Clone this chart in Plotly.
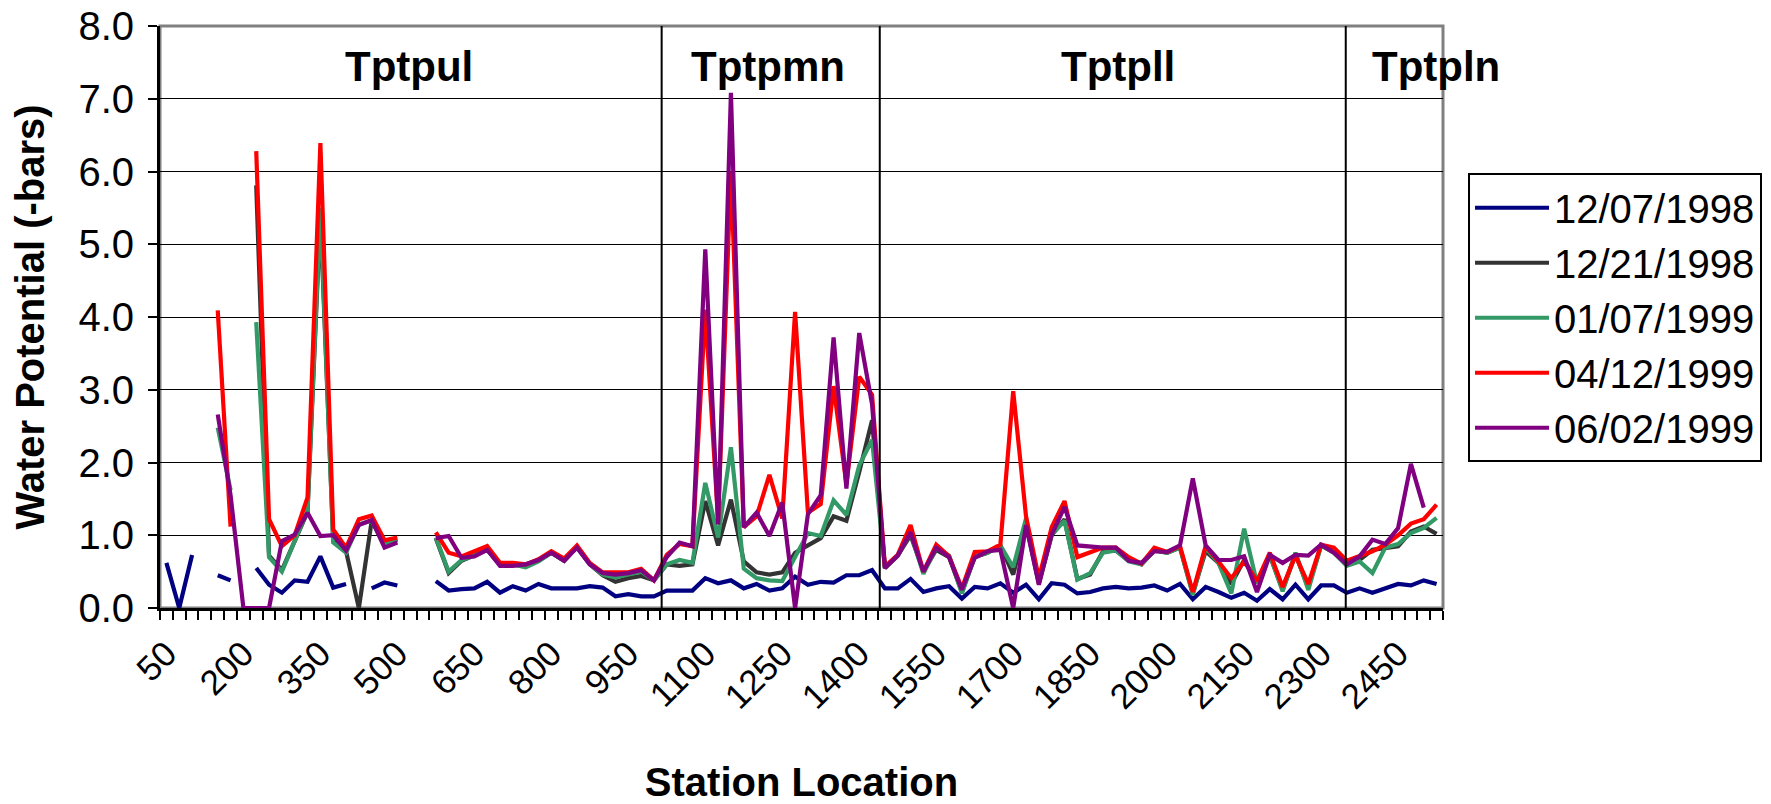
import plotly.graph_objects as go

# Station locations (categories), every 25 from 50 to 2525
stations = [50 + 25 * k for k in range(100)]
tick_labels = ["50", "200", "350", "500", "650", "800", "950", "1100", "1250", "1400",
               "1550", "1700", "1850", "2000", "2150", "2300", "2450"]
tick_stations = [int(t) for t in tick_labels]

N = None
s_120798 = [0.62, 0.0, 0.73, N, 0.45, 0.38, N, 0.55, 0.32, 0.21,
            0.38, 0.36, 0.71, 0.28, 0.33, N, 0.27, 0.35, 0.31, N,
            N, 0.37, 0.24, 0.26, 0.27, 0.36, 0.21, 0.30, 0.24, 0.33,
            0.27, 0.27, 0.27, 0.30, 0.28, 0.16, 0.19, 0.16, 0.16, 0.24,
            0.24, 0.24, 0.41, 0.34, 0.38, 0.27, 0.33, 0.24, 0.27, 0.43,
            0.32, 0.36, 0.35, 0.45, 0.45, 0.52, 0.27, 0.27, 0.40, 0.22,
            0.27, 0.30, 0.13, 0.29, 0.27, 0.34, 0.21, 0.32, 0.12, 0.34,
            0.32, 0.20, 0.22, 0.27, 0.29, 0.27, 0.28, 0.31, 0.24, 0.33,
            0.12, 0.29, 0.22, 0.14, 0.21, 0.10, 0.26, 0.12, 0.32, 0.12,
            0.31, 0.31, 0.21, 0.27, 0.21, 0.27, 0.33, 0.31, 0.38, 0.33]

s_122198 = [N, N, N, N, N, N, N, 5.81, 0.72, 0.52,
            0.92, 1.32, 5.40, 0.92, 0.78, 0.0, 1.20, 0.88, 0.94, N,
            N, 0.96, 0.48, 0.65, 0.72, 0.80, 0.60, 0.60, 0.58, 0.65,
            0.76, 0.65, 0.84, 0.60, 0.45, 0.36, 0.41, 0.44, 0.38, 0.60,
            0.58, 0.60, 1.47, 0.86, 1.49, 0.64, 0.49, 0.46, 0.49, 0.76,
            0.86, 0.96, 1.26, 1.20, 1.87, 2.58, 0.55, 0.72, 1.00, 0.50,
            0.80, 0.70, 0.22, 0.70, 0.76, 0.86, 0.46, 1.15, 0.34, 1.00,
            1.22, 0.40, 0.46, 0.78, 0.79, 0.67, 0.60, 0.79, 0.76, 0.83,
            0.20, 0.78, 0.62, 0.33, 0.66, 0.36, 0.72, 0.25, 0.74, 0.28,
            0.86, 0.76, 0.60, 0.66, 0.80, 0.83, 0.85, 1.05, 1.12, 1.02]

s_010799 = [N, N, N, N, 2.48, 1.62, N, 3.93, 0.70, 0.50,
            0.92, 1.34, 5.50, 0.90, 0.76, 1.15, 1.20, 0.87, 0.94, N,
            N, 0.97, 0.50, 0.66, 0.72, 0.80, 0.60, 0.60, 0.56, 0.64,
            0.76, 0.65, 0.84, 0.60, 0.46, 0.42, 0.46, 0.50, 0.38, 0.60,
            0.66, 0.62, 1.72, 0.97, 2.21, 0.54, 0.41, 0.38, 0.37, 0.71,
            1.03, 0.99, 1.48, 1.28, 1.96, 2.31, 0.55, 0.72, 1.04, 0.47,
            0.83, 0.72, 0.20, 0.71, 0.76, 0.86, 0.56, 1.23, 0.34, 1.01,
            1.20, 0.39, 0.48, 0.76, 0.79, 0.64, 0.60, 0.80, 0.76, 0.83,
            0.18, 0.83, 0.62, 0.20, 1.09, 0.34, 0.73, 0.23, 0.76, 0.25,
            0.86, 0.76, 0.58, 0.64, 0.48, 0.83, 0.88, 1.03, 1.10, 1.24]

s_041299 = [N, N, N, N, 4.09, 1.12, N, 6.28, 1.22, 0.85,
            1.00, 1.52, 6.39, 1.08, 0.83, 1.22, 1.27, 0.93, 0.97, N,
            N, 1.04, 0.76, 0.71, 0.78, 0.85, 0.62, 0.62, 0.60, 0.67,
            0.78, 0.68, 0.86, 0.62, 0.49, 0.49, 0.49, 0.54, 0.38, 0.73,
            0.88, 0.85, 4.10, 1.20, 6.00, 1.11, 1.26, 1.83, 1.23, 4.07,
            1.31, 1.43, 3.05, 1.70, 3.18, 2.93, 0.57, 0.73, 1.14, 0.50,
            0.87, 0.71, 0.27, 0.77, 0.78, 0.87, 2.98, 1.26, 0.41, 1.11,
            1.47, 0.70, 0.76, 0.83, 0.83, 0.70, 0.61, 0.83, 0.77, 0.85,
            0.22, 0.85, 0.64, 0.41, 0.64, 0.37, 0.76, 0.29, 0.72, 0.33,
            0.87, 0.83, 0.65, 0.71, 0.78, 0.87, 1.00, 1.16, 1.22, 1.42]

s_060299 = [N, N, N, N, 2.66, 1.55, 0.0, 0.0, 0.0, 0.92,
            1.01, 1.31, 0.99, 1.00, 0.79, 1.14, 1.21, 0.83, 0.90, N,
            N, 0.96, 0.99, 0.69, 0.71, 0.80, 0.58, 0.58, 0.60, 0.66,
            0.76, 0.65, 0.83, 0.60, 0.48, 0.46, 0.48, 0.52, 0.38, 0.70,
            0.90, 0.85, 4.93, 1.15, 7.08, 1.11, 1.31, 0.99, 1.45, 0.0,
            1.29, 1.55, 3.72, 1.64, 3.78, 2.80, 0.55, 0.72, 1.04, 0.50,
            0.83, 0.70, 0.25, 0.69, 0.78, 0.80, 0.0, 1.14, 0.32, 1.01,
            1.39, 0.86, 0.84, 0.83, 0.83, 0.65, 0.62, 0.78, 0.77, 0.86,
            1.78, 0.86, 0.66, 0.66, 0.71, 0.22, 0.73, 0.62, 0.73, 0.72,
            0.87, 0.76, 0.60, 0.71, 0.94, 0.88, 1.10, 1.98, 1.38, N]

series_names = ["12/07/1998", "12/21/1998", "01/07/1999", "04/12/1999", "06/02/1999"]
series_values = [s_120798, s_122198, s_010799, s_041299, s_060299]
series_colors = ["#000080", "#333333", "#339966", "#FF0000", "#800080"]

zone_names = ["Tptpul", "Tptpmn", "Tptpll", "Tptpln"]
zone_label_x = [523, 1223, 1905, 2395]
zone_bounds = [1015, 1440, 2348]

FONT = "Arial, 'Liberation Sans', sans-serif"

fig = go.Figure()
for name, vals, col in zip(series_names, series_values, series_colors):
    fig.add_trace(go.Scatter(x=stations, y=vals, mode="lines", name=name,
                             line=dict(color=col, width=4.2),
                             connectgaps=False))

shapes = [dict(type="rect", xref="x domain", yref="y domain", x0=0, x1=1, y0=0, y1=1,
               line=dict(color="#808080", width=3), layer="below")]
for b in zone_bounds:
    shapes.append(dict(type="line", xref="x", yref="y domain", x0=b, x1=b, y0=0, y1=1,
                       line=dict(color="black", width=2), layer="above"))

annotations = []
for nm, xx in zip(zone_names, zone_label_x):
    annotations.append(dict(x=xx, y=7.45, xref="x", yref="y", text="<b>%s</b>" % nm,
                            showarrow=False, font=dict(family=FONT, size=42, color="black"),
                            xanchor="left" if nm == "Tptpln" else "center", yanchor="middle"))

fig.update_layout(
    width=1771, height=804,
    margin=dict(l=160, r=328, t=26, b=196, autoexpand=False),
    paper_bgcolor="white", plot_bgcolor="white",
    font=dict(family=FONT, color="black"),
    shapes=shapes, annotations=annotations,
    showlegend=True,
    legend=dict(x=1.0195, xanchor="left", y=0.747, yanchor="top",
                bordercolor="black", borderwidth=2, font=dict(family=FONT, size=40),
                bgcolor="white", itemwidth=74),
    xaxis=dict(range=[37.5, 2537.5], tickmode="array", tickvals=tick_stations,
               ticktext=tick_labels, tickangle=-45, ticks="",
               tickfont=dict(family=FONT, size=35), ticklabelstandoff=8,
               ticklabeloverflow="allow",
               showline=True, linecolor="black", linewidth=3, showgrid=False, zeroline=False,
               automargin=False,
               minor=dict(tick0=37.5, dtick=25, ticks="outside", ticklen=9, tickwidth=2,
                          tickcolor="black", showgrid=False),
               title=dict(text="<b>Station Location</b>", font=dict(family=FONT, size=40),
                          standoff=56)),
    yaxis=dict(range=[0, 8], dtick=1, tickformat=".1f", ticks="outside", ticklen=9,
               tickwidth=2, tickcolor="black", tickfont=dict(family=FONT, size=40),
               showline=True, linecolor="black", linewidth=3,
               showgrid=True, gridcolor="black", gridwidth=1, zeroline=False,
               ticklabelstandoff=6, automargin=False, ticklabeloverflow="allow",
               title=dict(text="<b>Water Potential (-bars)</b>", font=dict(family=FONT, size=40),
                          standoff=22)),
)

fig.write_html("out.html", config={"displayModeBar": False},
               post_script="document.body.style.margin='0';")
